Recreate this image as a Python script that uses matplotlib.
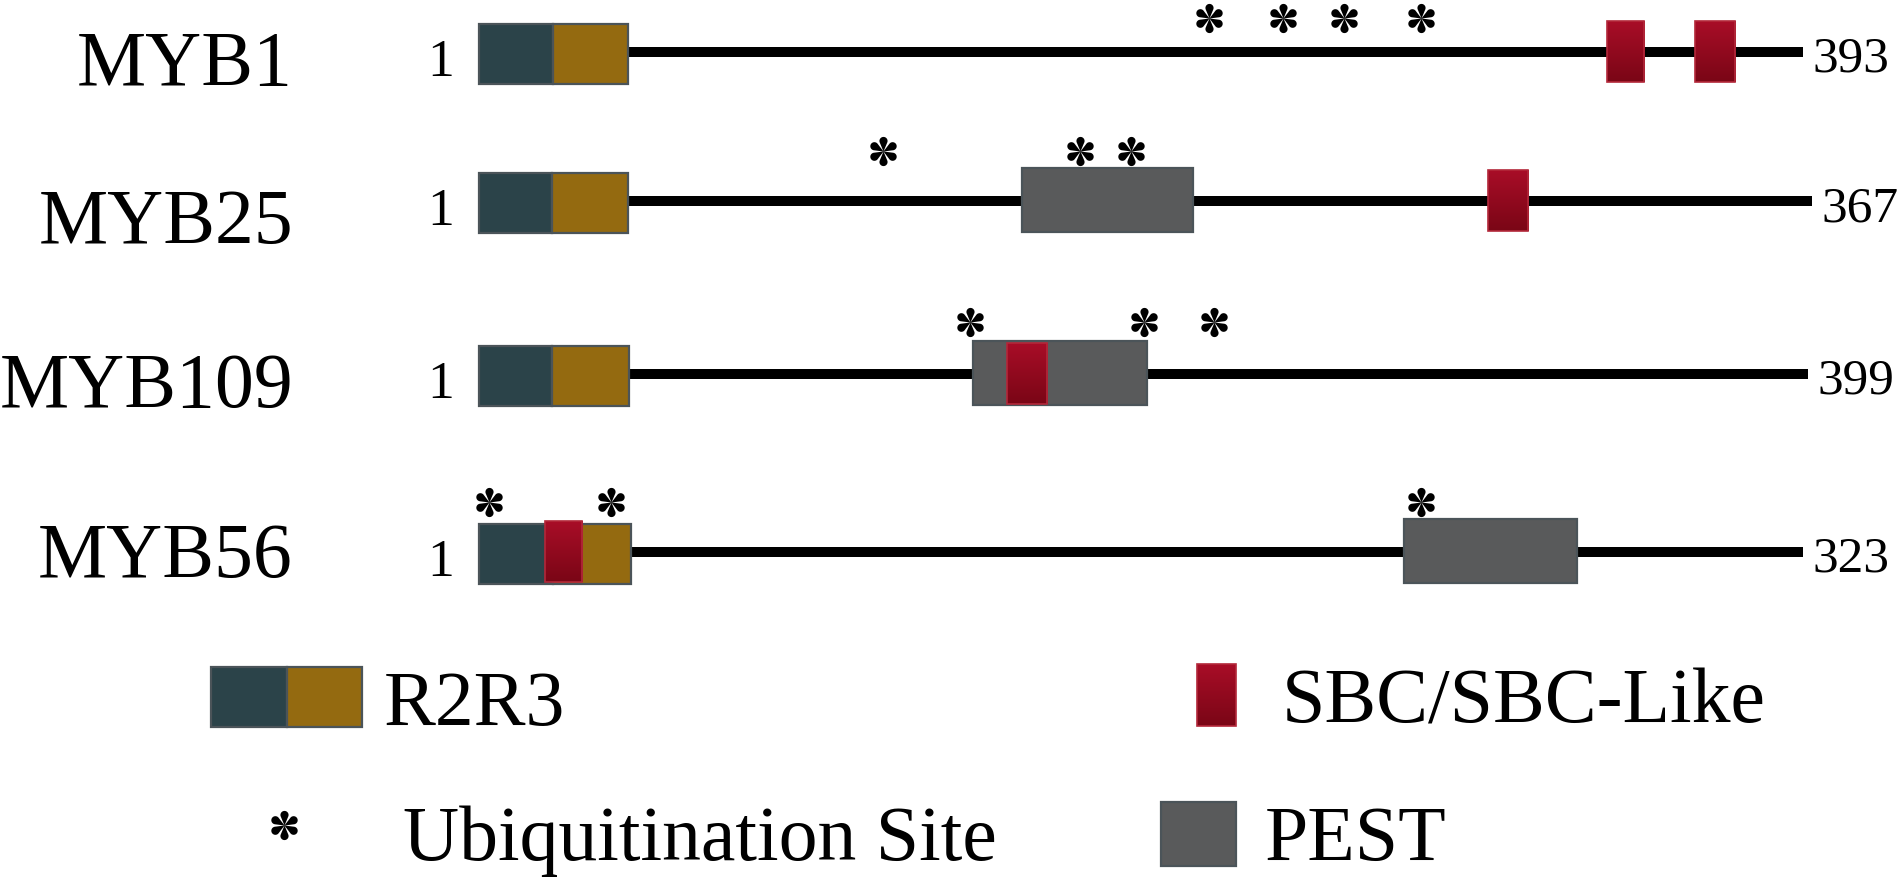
import matplotlib
matplotlib.use("Agg")
import matplotlib.pyplot as plt
from matplotlib.patches import Rectangle
from matplotlib.colors import LinearSegmentedColormap
from matplotlib.path import Path
import numpy as np

plt.rcParams["font.family"] = ["Liberation Serif", "DejaVu Serif"]

# ── data (amino-acid positions) ──────────────────────────────────────────────
names   = ["MYB1", "MYB25", "MYB109", "MYB56"]
lengths = [393, 367, 399, 323]
r2_dom  = [(1, 23), (1, 21), (1, 23), (1, 19)]
r3_dom  = [(23, 45), (21, 42), (23, 46), (19, 38)]
pest    = [[], [(150, 197)], [(149, 201)], [(226, 268)]]
sbc     = [[(335, 346), (361, 373)], [(278, 289)], [(159, 171)], [(17, 26)]]
ubiq    = [[217, 239, 257, 280], [112, 166, 180], [148, 200, 221], [3.4, 33, 230]]

legend_labels = ["R2R3", "SBC/SBC-Like", "Ubiquitination Site", "PEST"]

# ── layout (pixels of the 1900x884 canvas) ───────────────────────────────────
W, H = 1900, 884
row_y     = [52, 201, 374, 552]    # track line centre
star_off  = [-34, -50, -52, -50]   # asterisk centre relative to line
track_x0  = 479                    # where residue 1 sits
track_x1  = [1803, 1812, 1808, 1803]
name_base = [85, 243, 407, 577]
band = 140

TEAL, GOLD, GREY = "#2b4349", "#946a10", "#595a5b"
EDGE = "#4b5459"
RED_TOP, RED_BOT = "#a80d27", "#7a0616"
red_cmap = LinearSegmentedColormap.from_list("sbc", [RED_TOP, RED_BOT])
grad = np.linspace(0, 1, 64).reshape(-1, 1)

FS_NAME, FS_ONE, FS_LEN = 56, 38.5, 37


def petal_star(n_arms=6, c=0.70, r=0.27):
    """Times-style asterisk: teardrop petals meeting at the centre."""
    beta = np.arccos(-r / c)
    ang = np.linspace(beta, -beta, 40)
    u = c + r * np.cos(ang)
    v = r * np.sin(ang)
    verts, codes = [], []
    for k in range(n_arms):
        th = np.pi / 2 + k * 2 * np.pi / n_arms
        ct, st = np.cos(th), np.sin(th)
        pts = [(0.0, 0.0)] + [(ui * ct - vi * st, ui * st + vi * ct)
                              for ui, vi in zip(u, v)] + [(0.0, 0.0)]
        verts += pts
        codes += [Path.MOVETO] + [Path.LINETO] * (len(pts) - 2) + [Path.CLOSEPOLY]
    return Path(verts, codes)


STAR = petal_star()
STAR_MS = 21   # points, full height of the asterisk (~29 px)


def box(ax, x0, x1, y0, y1, fc, z=2):
    ax.add_patch(Rectangle((x0, y0), x1 - x0, y1 - y0, facecolor=fc,
                           edgecolor=EDGE, linewidth=1.6, zorder=z))


def sbc_box(ax, x0, x1, y0, y1, z=3):
    ax.imshow(grad, cmap=red_cmap, extent=(x0, x1, y1, y0), origin="upper",
              aspect="auto", interpolation="bilinear", zorder=z)
    ax.add_patch(Rectangle((x0, y0), x1 - x0, y1 - y0, facecolor="none",
                           edgecolor="#b3283a", linewidth=1.2, zorder=z + 0.1))


def stars(ax, xs, y):
    ax.plot(xs, [y] * len(xs), linestyle="none", marker=STAR,
            markersize=STAR_MS, color="black", markeredgewidth=0,
            zorder=5, clip_on=False)


fig = plt.figure(figsize=(W / 100, H / 100), dpi=100)
fig.patch.set_facecolor("white")

# overlay axes in pixel coordinates for labels + legend
ax = fig.add_axes([0, 0, 1, 1])
ax.set_facecolor("none")
ax.axis("off")

for i, name in enumerate(names):
    L = lengths[i]
    yc = row_y[i]
    s = (track_x1[i] - track_x0) / (L - 1)          # px per residue
    rax = fig.add_axes([0, 1 - (yc + band / 2) / H, 1, band / H])
    rax.set_facecolor("none")
    rax.axis("off")

    rax.plot([1, L], [0, 0], color="black", linewidth=7.2,
             solid_capstyle="butt", zorder=1)
    box(rax, *r2_dom[i], -28, 32, TEAL)
    box(rax, *r3_dom[i], -28, 32, GOLD)
    for a, b in pest[i]:
        box(rax, a, b, -33, 31, GREY)
    for a, b in sbc[i]:
        sbc_box(rax, a, b, -31, 30)
    stars(rax, ubiq[i], star_off[i])

    rax.set_xlim(1 - track_x0 / s, 1 + (W - track_x0) / s)
    rax.set_ylim(band / 2, -band / 2)

    # labels
    ax.text(293, name_base[i], name, fontsize=FS_NAME, ha="right", va="baseline")
    ax.text(441, yc + 24, "1", fontsize=FS_ONE, ha="center", va="baseline")
    ax.text(track_x1[i] + 9, yc + 20, str(L), fontsize=FS_LEN, ha="left",
            va="baseline")

# ── legend ───────────────────────────────────────────────────────────────────
box(ax, 211, 287, 667, 727, TEAL)
box(ax, 287, 362, 667, 727, GOLD)
ax.text(384, 725, legend_labels[0], fontsize=FS_NAME, va="baseline")

sbc_box(ax, 1197, 1236, 664, 726)
ax.text(1282, 723, legend_labels[1], fontsize=FS_NAME, va="baseline")

stars(ax, [284], 825)
ax.text(403, 860, legend_labels[2], fontsize=FS_NAME, va="baseline")

box(ax, 1161, 1236, 802, 866, GREY)
ax.text(1265, 860, legend_labels[3], fontsize=FS_NAME, va="baseline")

ax.set_xlim(0, W)
ax.set_ylim(H, 0)

fig.savefig("out.png", dpi=100, facecolor="white")
